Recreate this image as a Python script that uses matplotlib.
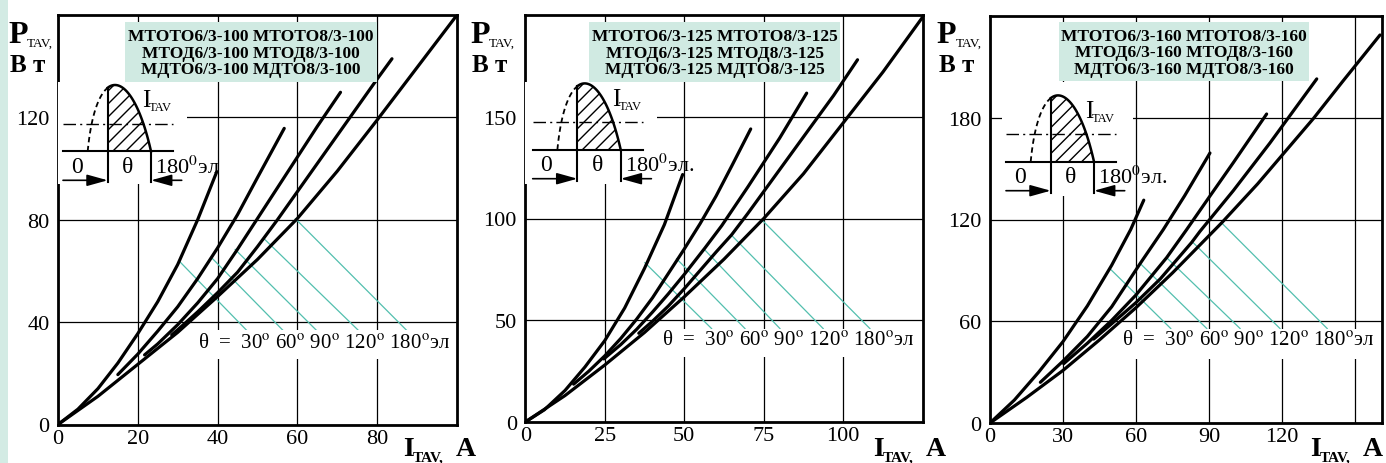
import numpy as np
import matplotlib
matplotlib.use('Agg')
import matplotlib.pyplot as plt
from matplotlib.patches import Rectangle, Polygon, FancyArrowPatch
from matplotlib.lines import Line2D

plt.rcParams['font.family'] = ['Liberation Serif', 'DejaVu Serif']
plt.rcParams['mathtext.fontset'] = 'stix'

# ---- values: I_TAV in A, P_TAV in W ----
# 100 A devices
i100_30 = [0, 5, 10, 15, 20, 25, 30, 35, 39.8]
p100_30 = [0, 6, 14, 24, 35.5, 48, 62.5, 80, 98.8]
i100_60 = [15, 20, 25, 30, 35, 40, 45, 50, 56.7]
p100_60 = [19.5, 27.5, 36.5, 46, 57, 69, 82, 96.5, 115.7]
i100_90 = [21.7, 25, 30, 35, 40, 45, 50, 55, 60, 65, 70.8]
p100_90 = [27.2, 31.5, 39, 47.5, 57, 68.5, 80.5, 92.5, 104.5, 116.5, 129.8]
i100_120 = [28.5, 30, 35, 40, 45, 50, 55, 60, 65, 70, 75, 80, 83.7]
p100_120 = [35, 37, 44, 51.5, 59.5, 69.5, 80, 91, 102, 113, 124, 135, 142.9]
i100_180 = [0, 10, 20, 30, 40, 50, 60, 70, 80, 90, 100]
p100_180 = [0, 11, 23.5, 36, 50, 64.5, 80.5, 99, 119, 139.5, 160]

# 125 A devices
i125_30 = [0, 6, 12.5, 18.75, 25, 31.25, 37.5, 43.75, 49.5]
p125_30 = [0, 6, 15.5, 27, 40, 56, 75.5, 97, 121.6]
i125_60 = [15.2, 20, 25, 30, 35, 40, 45, 50, 55, 60, 65, 70.9]
p125_60 = [18.6, 25, 32.5, 41, 50.5, 61, 73, 85, 97.5, 111, 126, 144]
i125_90 = [24.7, 30, 35, 40, 45, 50, 56.5, 61.8, 70, 80, 88.5]
p125_90 = [31, 38, 45.5, 54, 63, 72.5, 85.5, 96.5, 115.5, 139.5, 161.6]
i125_120 = [35.7, 40, 45, 50, 55, 60, 64.9, 70, 80, 90, 97, 104.5]
p125_120 = [43.6, 49.5, 57, 65.5, 74.5, 83.5, 92, 102.5, 124, 145.5, 160.5, 178]
i125_180 = [0, 12.5, 25, 37.5, 50, 62.5, 75, 87.5, 100, 112.5, 125]
p125_180 = [0, 13, 28, 44, 61.5, 80, 100, 122, 147, 172, 199]

# 160 A devices
i160_30 = [0, 10, 20, 30, 40, 50, 57.8, 63.2]
p160_30 = [0, 13.5, 30, 48, 69, 93, 114, 131.4]
i160_60 = [20.7, 30, 40, 50, 61.7, 71.2, 80, 90.4]
p160_60 = [24, 36.5, 51, 68.5, 94, 114, 134, 159.2]
i160_90 = [30.3, 40, 50, 60, 72.6, 80.8, 90, 100, 113.7]
p160_90 = [35, 47, 60.5, 75.5, 97.5, 114, 133, 153.5, 182.2]
i160_120 = [42.6, 50, 60, 70, 82.9, 86.3, 100, 115, 134.3]
p160_120 = [49.5, 58.5, 71, 85, 106.5, 113, 137, 165, 202.9]
i160_180 = [0, 15, 30, 45, 60, 75, 95.2, 110, 132.9, 145, 160.3]
p160_180 = [0, 15, 31, 49, 68, 88.5, 118, 141, 179.5, 201.5, 228.8]

# leader lines (start on curve -> end at the theta label), per panel
lead100_i0 = [30.6, 38.6, 44.4, 51.5, 59.5]
lead100_p0 = [63.5, 65, 68.4, 72.8, 80.4]
lead100_i1 = [47.4, 56.5, 64.9, 75.4, 87.5]
lead100_p1 = 36.6
lead125_i0 = [37.6, 47.6, 56.5, 64.9, 74.3]
lead125_p0 = [78.3, 80.2, 84.5, 91.7, 99.5]
lead125_i1 = [58.6, 69.1, 80.1, 93.7, 108.4]
lead125_p1 = 45.9
lead160_i0 = [49.3, 61.7, 72.6, 82.9, 95.2]
lead160_p0 = [91, 94.1, 97.5, 107.2, 118]
lead160_i1 = [74.3, 89.1, 102.8, 119.2, 138.6]
lead160_p1 = 55.7

xticks100 = [0, 20, 40, 60, 80]
yticks100 = [0, 40, 80, 120]
xticks125 = [0, 25, 50, 75, 100]
yticks125 = [0, 50, 100, 150]
xticks160 = [0, 30, 60, 90, 120, 150]
xlabels160 = ['0', '30', '60', '90', '120', '']
yticks160 = [0, 60, 120, 180]

hdr100 = 'МТОТО6/3-100 МТОТО8/3-100\nМТОД6/3-100 МТОД8/3-100\nМДТО6/3-100 МДТО8/3-100'
hdr125 = 'МТОТО6/3-125 МТОТО8/3-125\nМТОД6/3-125 МТОД8/3-125\nМДТО6/3-125 МДТО8/3-125'
hdr160 = 'МТОТО6/3-160 МТОТО8/3-160\nМТОД6/3-160 МТОД8/3-160\nМДТО6/3-160 МДТО8/3-160'

W, H = 1386, 464
fig = plt.figure(figsize=(W / 100, H / 100), dpi=100)
fig.patch.set_facecolor('white')
TF = fig.transFigure


def fx(x):
    return x / W


def fy(y):
    return 1 - y / H


def rect(x0, y0, x1, y1, color, z=1):
    fig.add_artist(Rectangle((fx(x0), fy(y1)), (x1 - x0) / W, (y1 - y0) / H,
                             transform=TF, facecolor=color, edgecolor='none', zorder=z))


def line(xs, ys, **kw):
    ln = Line2D([fx(v) for v in xs], [fy(v) for v in ys], transform=TF, **kw)
    fig.add_artist(ln)
    return ln


# light teal strip on the left edge
rect(0, 0, 8, H, '#d3ebe4')

sup = r'$^{\mathrm{o}}$'
theta_txt = 'θ  =  30' + sup + ' 60' + sup + ' 90' + sup + ' 120' + sup + ' 180' + sup + 'эл'

panels = [
    dict(box=(58, 16, 457, 425.5), xmax=100, ymax=160, xt=xticks100, xl=None, yt=yticks100,
         curves=[(i100_30, p100_30), (i100_60, p100_60), (i100_90, p100_90),
                 (i100_120, p100_120), (i100_180, p100_180)],
         lead=(lead100_i0, lead100_p0, lead100_i1, lead100_p1),
         hdr=hdr100, hdr_box=(125, 22.7, 377, 82.7),
         lab_box=(195, 331, 455, 360), lab_x=198, lab_y=344,
         inset=(63, 152.3), inset_white=(58, 83, 186.7, 185), deg='180$^0$эл',
         plab=8, ilab=403),
    dict(box=(525.3, 16, 922.7, 423), xmax=125, ymax=200, xt=xticks125, xl=None, yt=yticks125,
         curves=[(i125_30, p125_30), (i125_60, p125_60), (i125_90, p125_90),
                 (i125_120, p125_120), (i125_180, p125_180)],
         lead=(lead125_i0, lead125_p0, lead125_i1, lead125_p1),
         hdr=hdr125, hdr_box=(589.3, 22.7, 840, 82.7),
         lab_box=(658, 330, 921, 358), lab_x=661.7, lab_y=341,
         inset=(532.7, 150.7), inset_white=(525.3, 83, 656.7, 185), deg='180$^0$эл.',
         plab=470, ilab=872.7),
    dict(box=(990, 17, 1381.7, 424), xmax=161, ymax=240, xt=xticks160, xl=xlabels160, yt=yticks160,
         curves=[(i160_30, p160_30), (i160_60, p160_60), (i160_90, p160_90),
                 (i160_120, p160_120), (i160_180, p160_180)],
         lead=(lead160_i0, lead160_p0, lead160_i1, lead160_p1),
         hdr=hdr160, hdr_box=(1059.3, 22.7, 1309.3, 81.7),
         lab_box=(1118, 330, 1380, 360), lab_x=1121.7, lab_y=341,
         inset=(1006, 162.7), inset_white=(1001.7, 83, 1133.3, 197), deg='180$^0$эл.',
         plab=936.7, ilab=1310),
]

for pn in panels:
    l, t, r, b = pn['box']
    ax = fig.add_axes([fx(l), fy(b), (r - l) / W, (b - t) / H])
    ax.set_xlim(0, pn['xmax'])
    ax.set_ylim(0, pn['ymax'])
    ax.set_xticks(pn['xt'])
    if pn['xl'] is not None:
        ax.set_xticklabels(pn['xl'])
    ax.set_yticks(pn['yt'])
    ax.grid(True, color='black', lw=0.9)
    ax.set_axisbelow(True)
    ax.tick_params(length=0, labelsize=16)
    ax.tick_params(axis='x', pad=3)
    ax.tick_params(axis='y', pad=6)
    for s in ax.spines.values():
        s.set_linewidth(2)

    # leader lines
    i0, p0, i1, p1 = pn['lead']
    for k in range(len(i0)):
        ax.plot([i0[k], i1[k]], [p0[k], p1], color='#52bfae', lw=0.9, zorder=2)

    # loss curves
    for ci, cp in pn['curves']:
        ax.plot(ci, cp, color='black', lw=2.3, solid_capstyle='round',
                solid_joinstyle='round', zorder=3)

    # theta label on white
    x0, y0, x1, y1 = pn['lab_box']
    rect(x0, y0, x1, y1, 'white')
    fig.text(fx(pn['lab_x']), fy(pn['lab_y']), theta_txt, ha='left', va='center',
             fontsize=15, zorder=3)

    # header with device names
    x0, y0, x1, y1 = pn['hdr_box']
    rect(x0, y0, x1, y1, '#d0eae2')
    fig.text(fx((x0 + x1) / 2), fy((y0 + y1) / 2 + 1), pn['hdr'], ha='center', va='center',
             fontsize=12.5, fontweight='bold', linespacing=1.05, zorder=3)

    # waveform inset
    x0, y0, x1, y1 = pn['inset_white']
    rect(x0, y0, x1, y1, 'white')
    ox, oy = pn['inset']
    line([ox, ox + 110], [oy, oy], color='black', lw=1.5, zorder=3)
    line([ox, ox + 110], [oy - 27.3, oy - 27.3], color='black', lw=1.0,
         linestyle=(0, (9, 3, 1.5, 3)), zorder=3)
    tt = np.linspace(0, 1, 80)
    bx = [ox + 24.7, ox + 33, ox + 68.1, ox + 88]
    by = [oy, oy - 88.4, oy - 88.4, oy]
    cx = (1 - tt) ** 3 * bx[0] + 3 * tt * (1 - tt) ** 2 * bx[1] + 3 * tt ** 2 * (1 - tt) * bx[2] + tt ** 3 * bx[3]
    cy = (1 - tt) ** 3 * by[0] + 3 * tt * (1 - tt) ** 2 * by[1] + 3 * tt ** 2 * (1 - tt) * by[2] + tt ** 3 * by[3]
    xv = ox + 44.7
    left = cx <= xv
    yv = np.interp(xv, cx, cy)
    line(list(cx[left]) + [xv], list(cy[left]) + [yv], color='black', lw=1.3,
         linestyle=(0, (3, 2)), zorder=3)
    sx = [xv] + list(cx[~left])
    sy = [yv] + list(cy[~left])
    line(sx, sy, color='black', lw=1.8, zorder=4)
    poly = Polygon([(fx(a), fy(c)) for a, c in zip(sx + [ox + 88, xv], sy + [oy, oy])],
                   closed=True, transform=TF, facecolor='none', edgecolor='none', zorder=3)
    fig.add_artist(poly)
    # hatch: 45 degree strokes about 13 px apart, clipped to the shaded area
    for k in range(10):
        hx = xv - 60 + k * 13
        hl = line([hx, hx + 80], [oy, oy - 80], color='black', lw=1.0, zorder=3)
        hl.set_clip_path(poly)
    line([xv, xv], [yv, oy + 31], color='black', lw=1.5, zorder=3)
    line([ox + 88, ox + 88], [oy, oy + 31], color='black', lw=1.5, zorder=3)
    ay = oy + 29
    for a, c in [((ox, ay), (xv, ay)), ((ox + 118.7, ay), (ox + 88, ay))]:
        fig.add_artist(FancyArrowPatch((fx(a[0]), fy(a[1])), (fx(c[0]), fy(c[1])),
                                       transform=TF, arrowstyle='-|>,head_length=0.9,head_width=0.25',
                                       mutation_scale=14, color='black', lw=1.2,
                                       shrinkA=0, shrinkB=0, zorder=4))
    fig.text(fx(ox + 13.7), fy(oy + 15), '0', ha='center', va='center', fontsize=17, zorder=4)
    fig.text(fx(ox + 65), fy(oy + 15), 'θ', ha='center', va='center', fontsize=17, zorder=4)
    fig.text(fx(ox + 92), fy(oy + 15), pn['deg'], ha='left', va='center', fontsize=16, zorder=4)
    fig.text(fx(ox + 79), fy(oy - 45), 'I', ha='left', va='baseline', fontsize=18, zorder=4)
    fig.text(fx(ox + 86), fy(oy - 41), 'TAV', ha='left', va='baseline', fontsize=9, zorder=4)

    # axis titles
    pl = pn['plab']
    fig.text(fx(pl), fy(43), 'P', ha='left', va='baseline', fontsize=23, fontweight='bold')
    fig.text(fx(pl + 19), fy(47), 'TAV,', ha='left', va='baseline', fontsize=9.5)
    fig.text(fx(pl + 2), fy(72), 'В т', ha='left', va='baseline', fontsize=18, fontweight='bold')
    il = pn['ilab']
    fig.text(fx(il), fy(456), 'I', ha='left', va='baseline', fontsize=20, fontweight='bold')
    fig.text(fx(il + 10), fy(452), 'TAV,', ha='left', va='top', fontsize=11, fontweight='bold')
    fig.text(fx(il + 53), fy(456), 'A', ha='left', va='baseline', fontsize=20, fontweight='bold')

fig.savefig('out.png', dpi=100)
